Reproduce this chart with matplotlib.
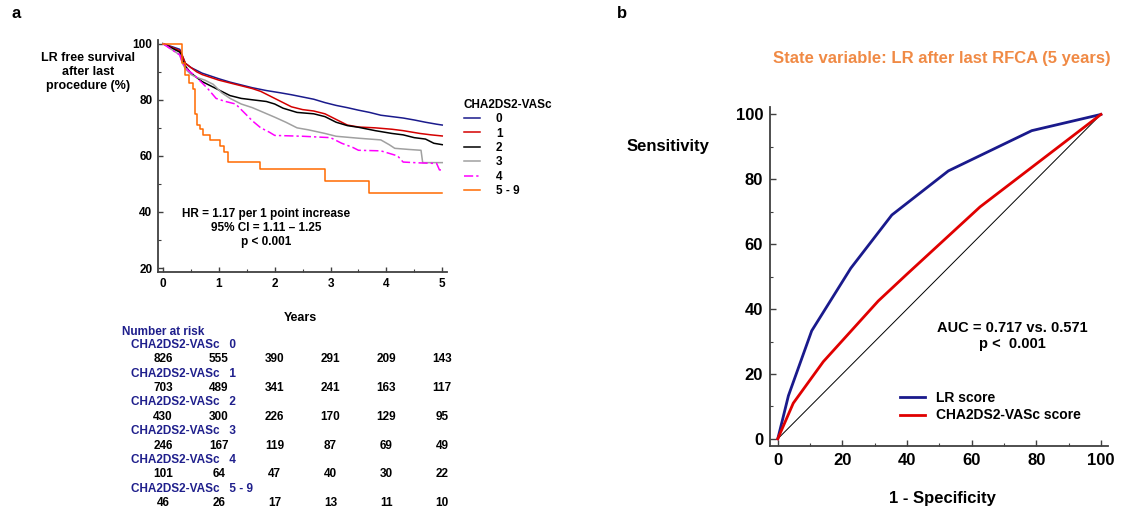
import numpy as np
import matplotlib
matplotlib.use("Agg")
import matplotlib.pyplot as plt
from matplotlib.transforms import blended_transform_factory

plt.rcParams['font.family'] = ['Liberation Sans', 'DejaVu Sans']
plt.rcParams['font.weight'] = 'bold'

# ---- Kaplan-Meier data ----
t0 = [0, 0.3, 0.35, 0.4, 0.5, 0.6, 0.7, 0.85, 1.0, 1.2, 1.4, 1.6, 1.85, 2.1, 2.3, 2.5, 2.7, 2.9, 3.1, 3.3, 3.5, 3.7, 3.9, 4.1, 4.3, 4.5, 4.7, 4.9, 5.0]
s0 = [100, 98, 95.5, 93, 91.5, 90.5, 89.5, 88.5, 87.5, 86.3, 85.3, 84.3, 83.3, 82.5, 81.8, 81.0, 80.2, 79, 78, 77.2, 76.3, 75.5, 74.5, 74, 73.5, 72.8, 72, 71.3, 71]
t1 = [0, 0.3, 0.35, 0.4, 0.5, 0.6, 0.7, 0.85, 1.0, 1.2, 1.4, 1.6, 1.75, 1.9, 2.1, 2.3, 2.5, 2.7, 2.9, 3.1, 3.3, 3.5, 3.8, 4.1, 4.3, 4.6, 4.8, 5.0]
s1 = [100, 97.5, 95.5, 93, 91.5, 90, 89, 88, 87, 86, 85, 84, 83, 81.5, 79.5, 77.5, 76.5, 76, 75, 73, 71, 70.3, 70, 69.5, 69, 68, 67.5, 67.1]
t2 = [0, 0.3, 0.35, 0.4, 0.5, 0.6, 0.7, 0.85, 1.0, 1.2, 1.4, 1.6, 1.85, 2.0, 2.15, 2.4, 2.7, 2.9, 3.1, 3.3, 3.5, 3.8, 4.1, 4.3, 4.5, 4.7, 4.85, 5.0]
s2 = [100, 97, 94, 92, 89.5, 88, 86.5, 85, 83.5, 81.5, 80.5, 80, 79.4, 78.5, 77, 75.5, 75, 74, 72, 70.8, 70.2, 69, 68, 67.5, 66.5, 66, 64.5, 64]
t3 = [0, 0.3, 0.35, 0.4, 0.5, 0.6, 0.75, 0.9, 1.05, 1.2, 1.4, 1.6, 1.8, 2.0, 2.2, 2.4, 2.6, 2.9, 3.1, 3.5, 3.9, 4.05, 4.15, 4.4, 4.62, 4.65, 5.0]
s3 = [100, 96, 93, 91, 89, 88, 87, 85.5, 82.5, 80.5, 78.5, 77.2, 75.5, 73.8, 72, 70, 69.3, 68, 67, 66.3, 65.7, 64, 62.7, 62.3, 62, 57.6, 57.6]
t4 = [0, 0.3, 0.35, 0.45, 0.55, 0.65, 0.8, 0.95, 1.1, 1.3, 1.45, 1.6, 1.75, 1.9, 2.0, 2.5, 3.0, 3.2, 3.4, 3.5, 3.9, 4.2, 4.3, 4.6, 4.9, 4.95, 5.0]
s4 = [100, 96, 93, 90.5, 89, 87, 84, 80.5, 79.5, 78.5, 75.5, 72.5, 70, 68.5, 67.3, 67, 66.5, 64.5, 63, 62, 61.8, 60, 57.8, 57.5, 57.3, 55, 55]
t5 = [0, 0.34, 0.40, 0.46, 0.53, 0.57, 0.61, 0.66, 0.72, 0.85, 1.02, 1.10, 1.17, 1.74, 2.90, 3.68, 5.0]
s5 = [100, 93, 89, 86, 84, 75, 71, 69.5, 67.5, 65.5, 63.5, 61.5, 57.7, 55.2, 51.1, 46.9, 46.9]

groups = ['0', '1', '2', '3', '4', '5 - 9']
times = [t0, t1, t2, t3, t4, t5]
surv = [s0, s1, s2, s3, s4, s5]
colors = ['#1a1a8c', '#d40000', '#000000', '#a0a0a0', '#ff00ff', '#ff6a00']
styles = ['-', '-', '-', '-', (0, (6, 2, 1.5, 2)), '-']
# the big groups have many tiny steps, drawn as lines; the small group shows real steps
draw = ['default', 'default', 'default', 'default', 'default', 'steps-post']

risk_years = [0, 1, 2, 3, 4, 5]
at_risk = [
    [826, 555, 390, 291, 209, 143],
    [703, 489, 341, 241, 163, 117],
    [430, 300, 226, 170, 129, 95],
    [246, 167, 119, 87, 69, 49],
    [101, 64, 47, 40, 30, 22],
    [46, 26, 17, 13, 11, 10],
]

# ---- ROC data ----
fpr_lr = [0, 1.5, 3.3, 10.5, 22.6, 35.3, 52.8, 78.6, 100]
tpr_lr = [0, 6, 13.3, 33.3, 52.6, 69, 82.6, 95, 100]
fpr_cha = [0, 4.8, 14.1, 31.1, 39.9, 62.6, 100]
tpr_cha = [0, 11, 23.8, 42.5, 50.7, 71.5, 100]

W, H = 1122, 514
fig = plt.figure(figsize=(W / 100, H / 100), dpi=100)
spine_col = '#404040'

# ---------------- panel a ----------------
ax = fig.add_axes([158 / W, 1 - 272 / H, 288.7 / W, (272 - 39.5) / H])
for t, s, c, ls, d, g in zip(times, surv, colors, styles, draw, groups):
    ax.plot(t, s, drawstyle=d, color=c, lw=1.1, ls=ls, label=g)
ax.set_xlim(-0.09, 5.08)
ax.set_ylim(18.6, 101.5)
ax.set_xticks(range(6))
ax.set_xticks(np.arange(0.5, 5, 1), minor=True)
ax.set_yticks([20, 40, 60, 80, 100])
ax.set_yticks([30, 50, 70, 90], minor=True)
for sp in ['top', 'right']:
    ax.spines[sp].set_visible(False)
for sp in ['left', 'bottom']:
    ax.spines[sp].set_color(spine_col)
    ax.spines[sp].set_linewidth(1.3)
ax.tick_params(which='major', direction='in', length=3.5, width=1, color=spine_col, labelsize=8.5, pad=4)
ax.tick_params(which='minor', direction='in', length=2, width=0.8, color=spine_col)

leg = fig.legend(loc='upper left', bbox_to_anchor=(458 / W, 1 - 93 / H), frameon=False,
                 title='CHA2DS2-VASc', title_fontsize=8.5, fontsize=8.5,
                 handlelength=1.4, handletextpad=1.3, labelspacing=0.2, borderpad=0,
                 alignment='left')

fig.text(88 / W, 1 - 72 / H, 'LR free survival\nafter last\nprocedure (%)', ha='center', va='center',
         fontsize=9, linespacing=1.25)
fig.text(266 / W, 1 - 228 / H, 'HR = 1.17 per 1 point increase\n95% CI = 1.11 \u2013 1.25\np < 0.001',
         ha='center', va='center', fontsize=8.5, linespacing=1.25)
fig.text(300 / W, 1 - 318 / H, 'Years', ha='center', va='center', fontsize=9)
fig.text(12 / W, 1 - 14 / H, 'a', ha='left', va='center', fontsize=12)

# number-at-risk table
navy = '#1f1f8c'
tr = blended_transform_factory(ax.transData, fig.transFigure)
fig.text(122 / W, 1 - 332 / H, 'Number at risk', ha='left', va='center', fontsize=8.5, color=navy)
row_step = 28.7
for i, (g, row) in enumerate(zip(groups, at_risk)):
    ylab = 345 + i * row_step
    fig.text(131 / W, 1 - ylab / H, 'CHA2DS2-VASc   ' + g, ha='left', va='center', fontsize=8.5, color=navy)
    for yr, n in zip(risk_years, row):
        ax.text(yr, 1 - (ylab + 14.5) / H, str(n), transform=tr, ha='center', va='center',
                fontsize=8.5, clip_on=False)

# ---------------- panel b ----------------
bx = fig.add_axes([770 / W, 1 - 446 / H, 338 / W, (446 - 107.3) / H])
bx.plot([0, 100], [0, 100], color='#000000', lw=0.7)
bx.plot(fpr_lr, tpr_lr, color='#1a1a8c', lw=2, label='LR score')
bx.plot(fpr_cha, tpr_cha, color='#e00000', lw=2, label='CHA2DS2-VASc score')
bx.set_xlim(-2.4, 102.2)
bx.set_ylim(-2.2, 102.2)
bx.set_xticks(range(0, 101, 20))
bx.set_xticks(range(10, 100, 20), minor=True)
bx.set_yticks(range(0, 101, 20))
bx.set_yticks(range(10, 100, 20), minor=True)
for sp in ['top', 'right']:
    bx.spines[sp].set_visible(False)
for sp in ['left', 'bottom']:
    bx.spines[sp].set_color(spine_col)
    bx.spines[sp].set_linewidth(1.3)
bx.tick_params(which='major', direction='in', length=4.5, width=1, color=spine_col, labelsize=12, pad=5)
bx.tick_params(which='minor', direction='in', length=2.5, width=0.8, color=spine_col)
bx.legend(loc='upper left', bbox_to_anchor=(893 / W, 1 - 384 / H), bbox_transform=fig.transFigure,
          frameon=False, fontsize=10, handlelength=1.8, handletextpad=0.8, labelspacing=0.25, borderpad=0)

fig.text(942 / W, 1 - 58 / H, 'State variable: LR after last RFCA (5 years)', ha='center', va='center',
         fontsize=12, color='#f08a45')
fig.text(668 / W, 1 - 146 / H, 'Sensitivity', ha='center', va='center', fontsize=12)
fig.text(942 / W, 1 - 498 / H, '1 - Specificity', ha='center', va='center', fontsize=12)
fig.text(1012 / W, 1 - 336 / H, 'AUC = 0.717 vs. 0.571\np <  0.001', ha='center', va='center',
         fontsize=10.5, linespacing=1.2)
fig.text(617 / W, 1 - 14 / H, 'b', ha='left', va='center', fontsize=12)

fig.savefig('out.png', dpi=100)
